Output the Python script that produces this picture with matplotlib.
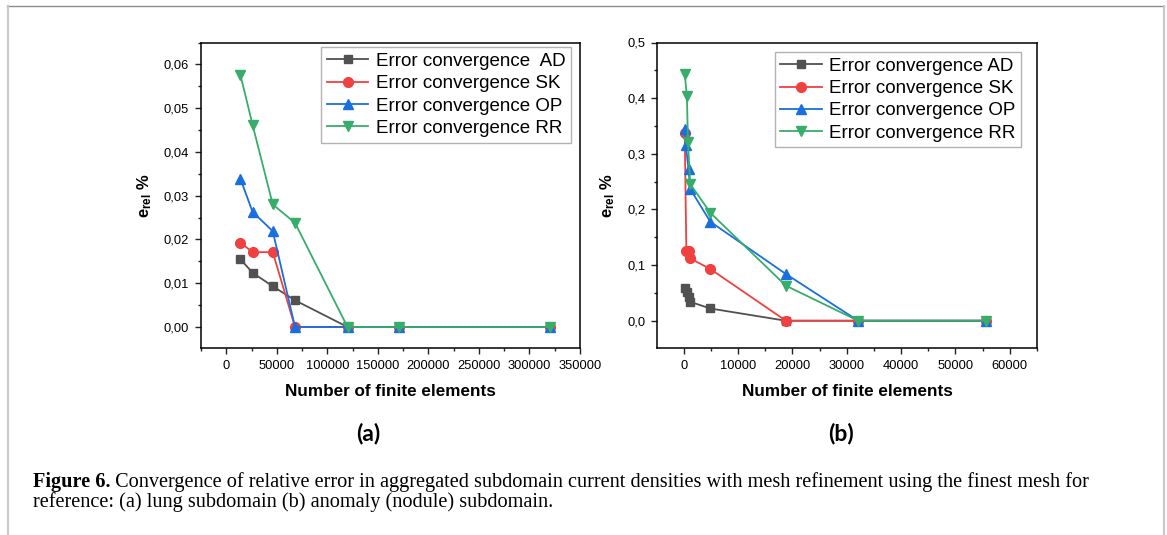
import matplotlib
matplotlib.use("Agg")
import matplotlib.pyplot as plt
from matplotlib.ticker import FuncFormatter, MultipleLocator
from matplotlib.lines import Line2D

plt.rcParams['font.family'] = 'Liberation Sans'
plt.rcParams['mathtext.fontset'] = 'custom'
plt.rcParams['mathtext.rm'] = 'Liberation Sans'
plt.rcParams['mathtext.bf'] = 'Liberation Sans:bold'

# (a) lung subdomain
xa_ad = [14000, 26000, 46000, 68000, 120000, 171000, 320000]
ya_ad = [0.0155, 0.0124, 0.0093, 0.0061, 0.0, 0.0, 0.0]
xa_sk = [14000, 26000, 46000, 68000, 120000, 171000, 320000]
ya_sk = [0.0193, 0.0171, 0.0171, 0.0, 0.0, 0.0, 0.0]
xa_op = [14000, 26000, 46000, 68000, 120000, 171000, 320000]
ya_op = [0.0339, 0.0263, 0.0219, 0.0, 0.0, 0.0, 0.0]
xa_rr = [14000, 26000, 46000, 68000, 120000, 171000, 320000]
ya_rr = [0.0576, 0.0462, 0.0280, 0.0238, 0.0, 0.0, 0.0]

# (b) anomaly (nodule) subdomain
xb_ad = [300, 600, 900, 1200, 4900, 18800, 32100, 55700]
yb_ad = [0.058, 0.051, 0.043, 0.034, 0.022, 0.0, 0.0, 0.0]
xb_sk = [200, 500, 900, 1200, 4900, 18800, 32100, 55700]
yb_sk = [0.337, 0.125, 0.125, 0.112, 0.093, 0.0, 0.0, 0.0]
xb_op = [200, 400, 900, 1200, 4900, 18800, 32100, 55700]
yb_op = [0.345, 0.315, 0.272, 0.237, 0.178, 0.084, 0.0, 0.0]
xb_rr = [200, 600, 800, 1200, 4900, 18800, 32100, 55700]
yb_rr = [0.443, 0.404, 0.321, 0.246, 0.194, 0.063, 0.0, 0.0]

labels_a = ['Error convergence  AD', 'Error convergence SK',
            'Error convergence OP', 'Error convergence RR']
labels_b = ['Error convergence AD', 'Error convergence SK',
            'Error convergence OP', 'Error convergence RR']
colors = ['#515151', '#F14040', '#1A6FDF', '#37AD6B']
markers = ['s', 'o', '^', 'v']
msizes = [6, 7, 7, 7]

cap_bold = 'Figure 6.'
cap_line1 = ' Convergence of relative error in aggregated subdomain current densities with mesh refinement using the finest mesh for'
cap_line2 = 'reference: (a) lung subdomain (b) anomaly (nodule) subdomain.'

W, H = 1167, 535
fig = plt.figure(figsize=(W / 100, H / 100), dpi=100)

# page frame
fig.add_artist(Line2D([7 / W, 1164 / W], [1 - 6 / H, 1 - 6 / H], transform=fig.transFigure,
                      color='#8c8c8c', lw=1.0))
fig.add_artist(Line2D([7.5 / W, 7.5 / W], [0, 1 - 6 / H], transform=fig.transFigure,
                      color='#c8c8c8', lw=1.5))
fig.add_artist(Line2D([1164 / W, 1164 / W], [0, 1 - 6 / H], transform=fig.transFigure,
                      color='#c8c8c8', lw=1.5))

ax1 = fig.add_axes([201 / W, 1 - 348 / H, 379 / W, 305.5 / H])
ax2 = fig.add_axes([657 / W, 1 - 348 / H, 380 / W, 305.5 / H])


def style(ax):
    for s in ax.spines.values():
        s.set_linewidth(1.1)
    ax.tick_params(which='both', direction='out', top=False, right=False,
                   labelsize=9.3, width=1.0, color='#222222', pad=4)
    ax.tick_params(which='major', length=4.5)
    ax.tick_params(which='minor', length=2.5)


for xs, ys, c, m, ms, lab in zip([xa_ad, xa_sk, xa_op, xa_rr], [ya_ad, ya_sk, ya_op, ya_rr],
                                 colors, markers, msizes, labels_a):
    ax1.plot(xs, ys, color=c, marker=m, ms=ms, lw=1.3, label=lab)
for xs, ys, c, m, ms, lab in zip([xb_ad, xb_sk, xb_op, xb_rr], [yb_ad, yb_sk, yb_op, yb_rr],
                                 colors, markers, msizes, labels_b):
    ax2.plot(xs, ys, color=c, marker=m, ms=ms, lw=1.3, label=lab)

ax1.set_xlim(-25000, 350000)
ax1.set_ylim(-0.0048, 0.065)
ax1.xaxis.set_major_locator(MultipleLocator(50000))
ax1.xaxis.set_minor_locator(MultipleLocator(25000))
ax1.yaxis.set_major_locator(MultipleLocator(0.01))
ax1.yaxis.set_minor_locator(MultipleLocator(0.005))
ax1.yaxis.set_major_formatter(FuncFormatter(lambda v, p: f'{v:.2f}'.replace('.', ',')))
ax1.xaxis.set_major_formatter(FuncFormatter(lambda v, p: f'{v:.0f}'))

ax2.set_xlim(-4900, 65000)
ax2.set_ylim(-0.049, 0.5)
ax2.xaxis.set_major_locator(MultipleLocator(10000))
ax2.xaxis.set_minor_locator(MultipleLocator(5000))
ax2.yaxis.set_major_locator(MultipleLocator(0.1))
ax2.yaxis.set_minor_locator(MultipleLocator(0.05))
ax2.yaxis.set_major_formatter(FuncFormatter(lambda v, p: f'{v:.1f}'.replace('.', ',')))
ax2.xaxis.set_major_formatter(FuncFormatter(lambda v, p: f'{v:.0f}'))

for ax, xc, sub in [(ax1, 368, '(a)'), (ax2, 841, '(b)')]:
    style(ax)
    ax.set_xlabel('Number of finite elements', fontsize=12.3, fontweight='bold', labelpad=9)
    ax.set_ylabel(r'$\mathbf{e_{rel}}$ %', fontsize=12, fontweight='bold', labelpad=7)
    fig.text(xc / W, 1 - 433 / H, sub, fontsize=16.5, fontweight='bold', family='Lato',
             ha='center', va='center')

leg_kw = dict(fontsize=13.5, frameon=True, fancybox=False, edgecolor='#a0a0a0',
              handlelength=2.2, handletextpad=0.4, labelspacing=0.28, borderpad=0.3,
              borderaxespad=0)
lg1 = ax1.legend(loc='upper right', bbox_to_anchor=(0.976, 0.985), **leg_kw)
lg2 = ax2.legend(loc='upper right', bbox_to_anchor=(0.958, 0.969), **leg_kw)
for lg in (lg1, lg2):
    lg.get_frame().set_linewidth(1.0)

# caption, sized so the first line spans about the same width as in the figure
cap_kw = dict(family='Liberation Serif', va='baseline')
x0, y1, y2 = 33 / W, 1 - 487 / H, 1 - 507 / H
probe = fig.text(x0, y1, cap_bold + cap_line1, fontsize=12, **cap_kw)
fig.canvas.draw()
cs = 12 * 1104 / probe.get_window_extent().width
probe.remove()
cs = min(cs, 14.6)
t_bold = fig.text(x0, y1, cap_bold, fontsize=cs, fontweight='bold', **cap_kw)
fig.canvas.draw()
xb = fig.transFigure.inverted().transform(
    (t_bold.get_window_extent().x1, 0))[0]
fig.text(xb, y1, cap_line1, fontsize=cs, **cap_kw)
fig.text(x0, y2, cap_line2, fontsize=cs, **cap_kw)

fig.savefig('out.png', dpi=100)
